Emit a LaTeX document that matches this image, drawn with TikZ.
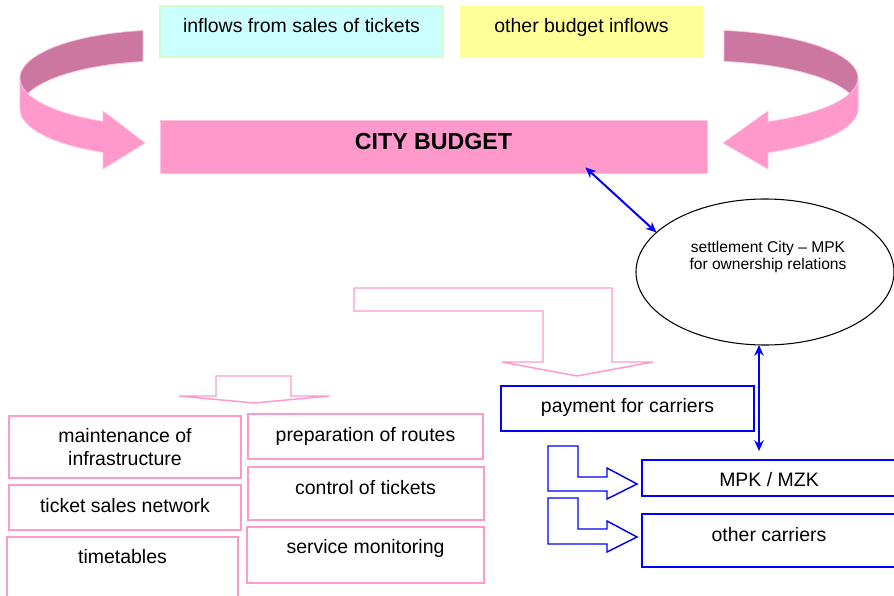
\documentclass[tikz,border=0pt]{standalone}
\usepackage{fontspec}
\setmainfont{Liberation Sans}
\usetikzlibrary{shapes.geometric,arrows.meta,fit}
\definecolor{pinkf}{HTML}{FF99CC}
\definecolor{pinkd}{HTML}{CC77A0}
\definecolor{cyanf}{HTML}{CCFFFF}
\definecolor{greenb}{HTML}{CCFFCC}
\definecolor{yelf}{HTML}{FFFF99}
\definecolor{blu}{HTML}{0000FF}
\begin{document}
\begin{tikzpicture}[x=0.75pt,y=-0.75pt,
  txt/.style={font=\fontsize{14.6}{17.25}\selectfont, inner sep=0pt, anchor=base},
  small/.style={font=\fontsize{11.7}{13.5}\selectfont, inner sep=0pt, anchor=base},
  pinkbox/.style={draw=pinkf, line width=1.1pt, inner sep=0pt, outer sep=0pt},
  bluebox/.style={draw=blu, line width=1.1pt, inner sep=0pt, outer sep=0pt},
  pinkout/.style={draw=pinkf, line width=1.1pt, line join=miter},
  blueout/.style={draw=blu, line width=1.1pt, line join=miter},
  dbl/.style={draw=blu, line width=1.5pt, {Stealth[length=8pt,width=7pt]}-{Stealth[length=8pt,width=7pt]}},
  ribbon/.style={draw=pinkf!60!white, line width=0.5pt}
]
\useasboundingbox (0,0) rectangle (894,596);

% top boxes
\node[fit={(160,6) (443,57)}, fill=cyanf, draw=greenb, line width=1pt, inner sep=0pt] (inflows) {};
\node[txt] at (301.5,32) {inflows from sales of tickets};
\node[fit={(460,6) (703,58)}, fill=yelf, inner sep=0pt] (other) {};
\node[txt] at (581.5,32) {other budget inflows};

% city budget
\node[fit={(160,120) (707,173)}, fill=pinkf, draw=pinkf!60!white, line width=0.6pt, inner sep=0pt] (budget) {};
\node[txt, font=\fontsize{17.4}{20}\selectfont\bfseries] at (433.5,149) {CITY BUDGET};

% left ribbon arrow
\path[ribbon, fill=pinkd] plot[domain=98.7:180,samples=40] ({165+145*cos(\x)},{78-48*sin(\x)}) -- (20,109)
  -- plot[domain=180:98.7,samples=40] ({165+145*cos(\x)},{109-48*sin(\x)}) -- cycle;
\path[ribbon, fill=pinkf] plot[domain=180:244.7,samples=40] ({165+145*cos(\x)},{78-48*sin(\x)})
  -- (103,111) -- (145,143) -- (103,169)
  -- plot[domain=244.7:180,samples=40] ({165+145*cos(\x)},{109-48*sin(\x)}) -- cycle;

% right ribbon arrow
\path[ribbon, fill=pinkd] plot[domain=82.2:0,samples=40] ({703+155*cos(\x)},{78-48*sin(\x)}) -- (858,109)
  -- plot[domain=0:82.2,samples=40] ({703+155*cos(\x)},{109-48*sin(\x)}) -- cycle;
\path[ribbon, fill=pinkf] plot[domain=0:-65.2,samples=40] ({703+155*cos(\x)},{78-48*sin(\x)})
  -- (768,111) -- (723,143) -- (768,169)
  -- plot[domain=-65.2:0,samples=40] ({703+155*cos(\x)},{109-48*sin(\x)}) -- cycle;

% ellipse
\node[ellipse, draw=black, line width=0.8pt, minimum width=258*0.75pt, minimum height=146*0.75pt, inner sep=0pt, outer sep=0pt] (ellip) at (765,272) {};
\node[small] at (768,252) {settlement City – MPK};
\node[small] at (768,269) {for ownership relations};

% pink outline arrows
\draw[pinkout] (354,288) -- (612,288) -- (612,362) -- (653,362) -- (577,376) -- (502,362) -- (543,362) -- (543,311) -- (354,311) -- cycle;
\draw[pinkout] (216,376) -- (291,376) -- (291,396) -- (329,396) -- (254,403) -- (179,396) -- (216,396) -- cycle;

% pink boxes
\node[pinkbox, fit={(9,416) (241,478)}] (maint) {};
\node[txt] at (125,442) {maintenance of};
\node[txt] at (125,465) {infrastructure};
\node[pinkbox, fit={(9,485) (241,530)}] (tsn) {};
\node[txt] at (125,512) {ticket sales network};
\node[pinkbox, fit={(7,537) (238,612)}] (timet) {};
\node[txt] at (122.5,563) {timetables};
\node[pinkbox, fit={(248,414) (483,459)}] (prep) {};
\node[txt] at (365.5,441) {preparation of routes};
\node[pinkbox, fit={(248,467) (484,520)}] (ctrl) {};
\node[txt] at (365.5,494) {control of tickets};
\node[pinkbox, fit={(247,527) (484,583)}] (serv) {};
\node[txt] at (365.5,553) {service monitoring};

% blue boxes
\node[bluebox, fit={(501,386) (754,431)}] (pay) {};
\node[txt] at (627.5,412) {payment for carriers};
\node[bluebox, fit={(642,460) (900,496)}] (mpk) {};
\node[txt] at (769,486) {MPK / MZK};
\node[bluebox, fit={(642,514) (900,567)}] (oc) {};
\node[txt] at (769,541) {other carriers};

% blue bent arrows
\draw[blueout] (548,446) -- (578,446) -- (578,477) -- (607,477) -- (607,468) -- (637,484) -- (607,499) -- (607,491) -- (548,491) -- cycle;
\draw[blueout] (548,498) -- (578,498) -- (578,529) -- (607,529) -- (607,521) -- (637,537) -- (607,552) -- (607,544) -- (548,544) -- cycle;

% double arrows
\draw[dbl] ([shift={(-122,-6)}]budget.south east) -- (ellip.160);
\draw[dbl] ([shift={(-6,0)}]ellip.south) -- ([shift={(-12,-9)}]mpk.north);
\end{tikzpicture}
\end{document}
